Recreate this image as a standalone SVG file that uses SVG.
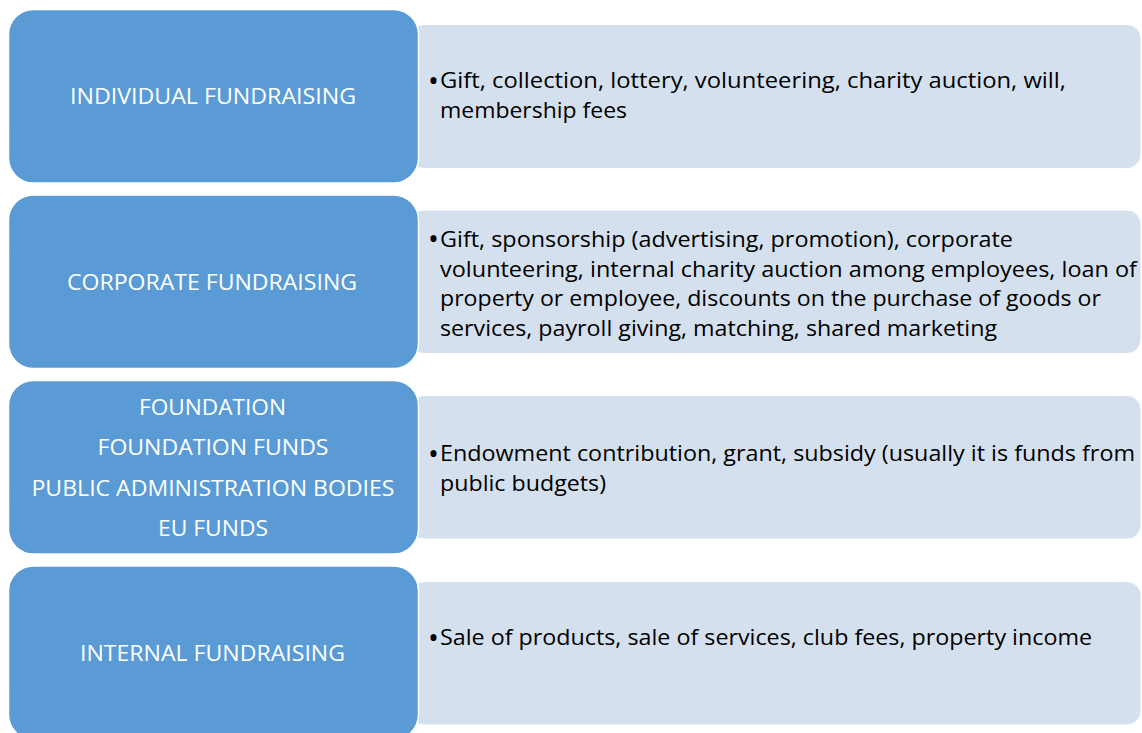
<svg xmlns="http://www.w3.org/2000/svg" width="1142" height="733" viewBox="0 0 1142 733">
<style>
.cat{fill:#5B9BD5;stroke:#FFFFFF;stroke-width:1.5}
.det{fill:#D5E0EE;stroke:#FFFFFF;stroke-width:1}
.lt{font-family:"Open Sans","Noto Sans",sans-serif;font-size:22px;fill:#FFFFFF;text-anchor:middle}
.rt{font-family:"Open Sans","Noto Sans",sans-serif;font-size:21px;fill:#000000}
.bl{font-family:"Open Sans","Noto Sans",sans-serif;font-size:29px;fill:#000000}
</style>
<rect width="1142" height="733" fill="#FFFFFF"/>
<g id="row1">
<rect class="det" x="410" y="24.5" width="731" height="144" rx="14"/>
<rect class="cat" x="8.5" y="9.5" width="410" height="173.5" rx="25"/>
<text class="lt" x="213" y="104" textLength="286" lengthAdjust="spacingAndGlyphs">INDIVIDUAL FUNDRAISING</text>
<text class="bl" x="428" y="90.5">•</text>
<text class="rt" x="440" y="88" textLength="626" lengthAdjust="spacingAndGlyphs">Gift, collection, lottery, volunteering, charity auction, will,</text>
<text class="rt" x="440" y="118" textLength="187" lengthAdjust="spacingAndGlyphs">membership fees</text>
</g>
<g id="row2">
<rect class="det" x="410" y="210" width="731" height="143.5" rx="14"/>
<rect class="cat" x="8.5" y="195" width="410" height="173.5" rx="25"/>
<text class="lt" x="212" y="290" textLength="290" lengthAdjust="spacingAndGlyphs">CORPORATE FUNDRAISING</text>
<text class="bl" x="428" y="249">•</text>
<text class="rt" x="440" y="246.5" textLength="573" lengthAdjust="spacingAndGlyphs">Gift, sponsorship (advertising, promotion), corporate</text>
<text class="rt" x="440" y="276.5" textLength="697" lengthAdjust="spacingAndGlyphs">volunteering, internal charity auction among employees, loan of</text>
<text class="rt" x="440" y="306" textLength="661" lengthAdjust="spacingAndGlyphs">property or employee, discounts on the purchase of goods or</text>
<text class="rt" x="440" y="335.5" textLength="557" lengthAdjust="spacingAndGlyphs">services, payroll giving, matching, shared marketing</text>
</g>
<g id="row3">
<rect class="det" x="410" y="395.5" width="731" height="143.5" rx="14"/>
<rect class="cat" x="8.5" y="380.5" width="410" height="173.5" rx="25"/>
<text class="lt" x="212.5" y="414.5" textLength="147" lengthAdjust="spacingAndGlyphs">FOUNDATION</text>
<text class="lt" x="213" y="455" textLength="231" lengthAdjust="spacingAndGlyphs">FOUNDATION FUNDS</text>
<text class="lt" x="213" y="495.5" textLength="363" lengthAdjust="spacingAndGlyphs">PUBLIC ADMINISTRATION BODIES</text>
<text class="lt" x="213" y="536" textLength="110" lengthAdjust="spacingAndGlyphs">EU FUNDS</text>
<text class="bl" x="428" y="463.5">•</text>
<text class="rt" x="440" y="461" textLength="695" lengthAdjust="spacingAndGlyphs">Endowment contribution, grant, subsidy (usually it is funds from</text>
<text class="rt" x="440" y="491" textLength="166" lengthAdjust="spacingAndGlyphs">public budgets)</text>
</g>
<g id="row4">
<rect class="det" x="410" y="581.5" width="731" height="143.5" rx="14"/>
<rect class="cat" x="8.5" y="566" width="410" height="173.5" rx="25"/>
<text class="lt" x="212.5" y="661" textLength="265" lengthAdjust="spacingAndGlyphs">INTERNAL FUNDRAISING</text>
<text class="bl" x="428" y="647.5">•</text>
<text class="rt" x="440" y="645" textLength="652" lengthAdjust="spacingAndGlyphs">Sale of products, sale of services, club fees, property income</text>
</g>
</svg>
